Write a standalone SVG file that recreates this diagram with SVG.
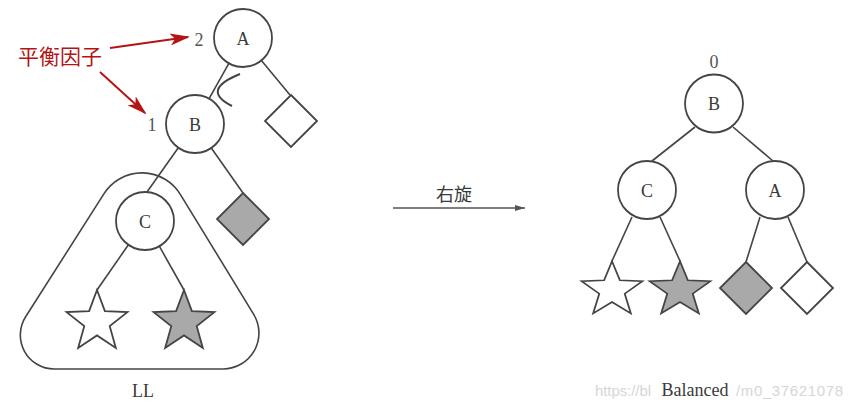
<svg xmlns="http://www.w3.org/2000/svg" xmlns:xlink="http://www.w3.org/1999/xlink" width="852" height="410" viewBox="0 0 852 410">
<style>
.n{fill:#fff;stroke:#444;stroke-width:1.8}
.g{fill:#a9a9a9;stroke:#444;stroke-width:1.8}
.e{stroke:#444;stroke-width:1.6;fill:none}
.t{font-family:"Liberation Serif","Noto Sans CJK SC",serif;font-size:18px;fill:#3a3a3a;text-anchor:middle}
.num{font-family:"Liberation Serif",serif;font-size:18px;fill:#555;text-anchor:middle}
.red{stroke:#b41414;stroke-width:2;fill:none}
.wm{font-family:"Liberation Sans",sans-serif;font-size:15px;fill:#d6d6d6}
</style>
<defs>
<polygon id="star" points="0,-32 7.88,-10.84 30.43,-9.89 12.74,4.14 18.82,25.89 0,13.4 -18.82,25.89 -12.74,4.14 -30.43,-9.89 -7.88,-10.84"/>
<polygon id="dia" points="0,-26 26,0 0,26 -26,0"/>
<marker id="ra" viewBox="0 0 20 12" refX="18" refY="6" markerWidth="20" markerHeight="12" markerUnits="userSpaceOnUse" orient="auto">
<path d="M0,0 L20,6 L0,12 L5,6 z" fill="#b41414"/>
</marker>
<marker id="ga" viewBox="0 0 10 6" refX="10" refY="3" markerWidth="10" markerHeight="6" markerUnits="userSpaceOnUse" orient="auto">
<path d="M0,0 L10,3 L0,6 z" fill="#555"/>
</marker>
</defs>
<rect width="852" height="410" fill="#fff"/>

<!-- connectors -->
<g id="connectors">
<line class="e" x1="228.9" y1="63.3" x2="209.1" y2="98.7"/>
<line class="e" x1="261.4" y1="60.4" x2="290" y2="95"/>
<line class="e" x1="211.3" y1="148" x2="243" y2="193"/>
<line class="e" x1="178.3" y1="147.7" x2="147" y2="192"/>
<line class="e" x1="128.4" y1="244.8" x2="97" y2="290"/>
<line class="e" x1="159.3" y1="246.2" x2="184" y2="290"/>
<line class="e" x1="695" y1="127" x2="652" y2="161"/>
<line class="e" x1="733" y1="127" x2="773" y2="161"/>
<line class="e" x1="632" y1="217" x2="612" y2="261"/>
<line class="e" x1="660" y1="217" x2="680" y2="261"/>
<line class="e" x1="760" y1="217" x2="746" y2="262"/>
<line class="e" x1="788" y1="217" x2="807" y2="262"/>
<path d="M240,74 Q200,90 232,106" stroke="#444" stroke-width="2" fill="none"/>
<line x1="393" y1="208" x2="525" y2="208" stroke="#555" stroke-width="1.5" marker-end="url(#ga)"/>
<line class="red" x1="110" y1="48" x2="188" y2="37" marker-end="url(#ra)"/>
<line class="red" x1="100" y1="72" x2="145" y2="113" marker-end="url(#ra)"/>
</g>

<!-- LL subtree outline -->
<g id="LL">
<path class="e" d="M104.2,193.4 A45,45 0 0 1 180.3,194.3 L253.7,314.3 A36,36 0 0 1 223,369 L54.4,369 A34,34 0 0 1 25.8,316.5 Z"/>
<text class="t" x="143" y="397">LL</text>
</g>

<!-- left tree -->
<g id="L-A"><circle class="n" cx="243" cy="38" r="29"/><text class="t" x="243" y="45">A</text></g>
<g id="L-B"><circle class="n" cx="195" cy="124" r="29"/><text class="t" x="195" y="131">B</text></g>
<g id="L-C"><circle class="n" cx="145" cy="221" r="29"/><text class="t" x="145" y="228">C</text></g>
<g id="L-D1"><use xlink:href="#dia" class="n" transform="translate(291,121)"/></g>
<g id="L-D2"><use xlink:href="#dia" class="g" transform="translate(243,219)"/></g>
<g id="L-S1"><use xlink:href="#star" class="n" transform="translate(97,322)"/></g>
<g id="L-S2"><use xlink:href="#star" class="g" transform="translate(184,322)"/></g>
<g id="bf-labels">
<text class="num" x="199" y="46">2</text>
<text class="num" x="152" y="131">1</text>
<text x="18" y="64" font-family="'Liberation Serif','Noto Sans CJK SC',serif" font-size="21" fill="#b41414">平衡因子</text>
</g>

<!-- rotation label -->
<g id="rot"><text class="t" x="454" y="201" font-size="19">右旋</text></g>

<!-- right tree -->
<g id="R-B"><circle class="n" cx="714" cy="103.5" r="29"/><text class="t" x="714" y="110">B</text><text class="num" x="714" y="68" font-size="16">0</text></g>
<g id="R-C"><circle class="n" cx="647" cy="190" r="29"/><text class="t" x="647" y="197">C</text></g>
<g id="R-A"><circle class="n" cx="775" cy="190" r="29"/><text class="t" x="775" y="197">A</text></g>
<g id="R-S1"><use xlink:href="#star" class="n" transform="translate(612,290) scale(1,0.9)"/></g>
<g id="R-S2"><use xlink:href="#star" class="g" transform="translate(680,290) scale(1,0.9)"/></g>
<g id="R-D1"><use xlink:href="#dia" class="g" transform="translate(746,288)"/></g>
<g id="R-D2"><use xlink:href="#dia" class="n" transform="translate(807,288)"/></g>

<text class="wm" x="595" y="396" textLength="56">https://bl</text>
<text class="wm" x="736" y="396" textLength="107">/m0_37621078</text>
<text class="t" x="695" y="396" font-size="20">Balanced</text>
</svg>
